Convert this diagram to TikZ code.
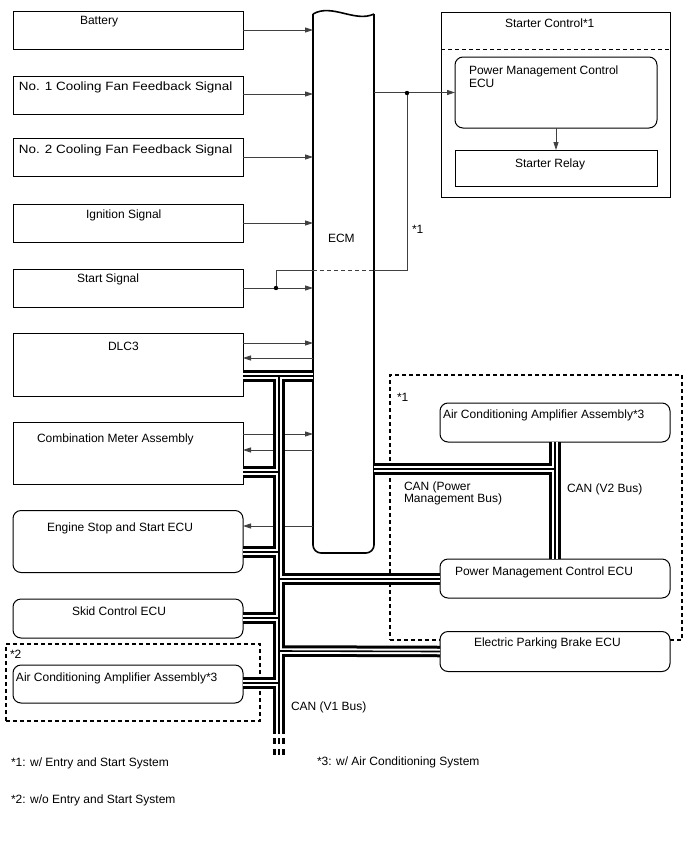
\documentclass[tikz,border=0pt]{standalone}
\usepackage{fontspec}
\setmainfont{Liberation Sans}
\usetikzlibrary{arrows.meta}
\begin{document}
\begin{tikzpicture}[x=1pt,y=-1pt,
  box/.style={draw=black, line width=1pt, inner sep=0pt, outer sep=0pt, fill=white},
  rbox/.style={box, rounded corners=8pt},
  dbox/.style={draw=black, line width=1.1pt, dash pattern=on 4pt off 3pt, inner sep=0pt, outer sep=0pt},
  lbl/.style={anchor=base west, inner sep=0pt, outer sep=0pt, font=\fontsize{12pt}{14pt}\selectfont},
  wire/.style={draw=black!75, line width=0.8pt},
  arr/.style={wire, -{Triangle[length=8pt,width=5pt]}},
  ecmline/.style={draw=black, line width=1.6pt},
  busA/.style={draw=black, line width=11.5pt},
  busB/.style={draw=white, line width=5.5pt},
  busC/.style={draw=black, line width=1.6pt}
]
\useasboundingbox (0,0) rectangle (688,852);
\fill[white] (0,0) rectangle (688,852);

% group frames
\node[dbox, minimum width=292pt, minimum height=265pt] (grp1) at (536,507.5) {};
\node[dbox, minimum width=254pt, minimum height=77pt] (grp2) at (133,682.5) {};

% left boxes
\node[box, minimum width=230pt, minimum height=38pt] (battery) at (128,30) {};
\node[box, minimum width=230pt, minimum height=38pt] (fan1) at (128,95) {};
\node[box, minimum width=230pt, minimum height=38pt] (fan2) at (128,157) {};
\node[box, minimum width=230pt, minimum height=38pt] (ign) at (128,223.5) {};
\node[box, minimum width=230pt, minimum height=38pt] (start) at (128,288) {};
\node[box, minimum width=230pt, minimum height=63pt] (dlc3) at (128,364.5) {};
\node[box, minimum width=230pt, minimum height=62pt] (comb) at (128,453) {};
\node[rbox, minimum width=230pt, minimum height=62pt] (ess) at (128,541.5) {};
\node[rbox, minimum width=230pt, minimum height=39pt] (skid) at (128,618.5) {};
\node[rbox, minimum width=230pt, minimum height=38pt] (acl) at (128,684) {};

% ECM
\node[minimum width=61pt, minimum height=539pt, inner sep=0pt, outer sep=0pt] (ecm) at (343.5,283.5) {};
\draw[ecmline] (ecm.north west) .. controls +(19,-11) and +(-19,9) .. (ecm.north east);
\draw[ecmline, rounded corners=8pt] (ecm.north east) -- (ecm.south east) -- (ecm.south west) -- (ecm.north west);

% starter control
\node[box, minimum width=229pt, minimum height=185pt] (sc) at (555.5,104.5) {};
\draw[wire, draw=black, dash pattern=on 4pt off 3pt] (sc.west |- 0,49) -- (sc.east |- 0,49);
\node[rbox, minimum width=202pt, minimum height=71pt] (pmcu) at (556,92.5) {};
\node[box, minimum width=202pt, minimum height=36pt] (relay) at (556,168) {};

% right boxes
\node[rbox, minimum width=230pt, minimum height=39pt] (acr) at (555,422.5) {};
\node[rbox, minimum width=230pt, minimum height=39pt] (pmcl) at (555,578.5) {};
\node[rbox, minimum width=230pt, minimum height=40pt] (epb) at (555,651.5) {};

% labels
\node[lbl] (tbat) at (80,24) {Battery};
\node[lbl] (tfan1) at (19,90) {\scalebox{1.12}[1]{No. 1 Cooling Fan Feedback Signal}};
\node[lbl] (tfan2) at (19,153) {\scalebox{1.12}[1]{No. 2 Cooling Fan Feedback Signal}};
\node[lbl] (tign) at (86,218) {Ignition Signal};
\node[lbl] (tstart) at (77,282) {Start Signal};
\node[lbl] (tdlc) at (108,350) {DLC3};
\node[lbl] (tcomb) at (37,442) {Combination Meter Assembly};
\node[lbl] (tess) at (47,531) {Engine Stop and Start ECU};
\node[lbl] (tskid) at (72,615) {Skid Control ECU};
\node[lbl] (tacl) at (16,681) {Air Conditioning Amplifier Assembly*3};
\node[lbl] (tsc) at (505,27) {Starter Control*1};
\node[lbl] (tpmcu1) at (469,74) {Power Management Control};
\node[lbl] (tpmcu2) at (469,87) {ECU};
\node[lbl] (trelay) at (515,167) {Starter Relay};
\node[lbl] (tecm) at (328,242) {ECM};
\node[lbl] (tst1) at (412,233) {*1};
\node[lbl] (tg1) at (397,401) {*1};
\node[lbl] (tacr) at (443,418) {Air Conditioning Amplifier Assembly*3};
\node[lbl] (tcanpm1) at (404,490) {CAN (Power};
\node[lbl] (tcanpm2) at (404,502) {Management Bus)};
\node[lbl] (tcanv2) at (567,492) {CAN (V2 Bus)};
\node[lbl] (tpmcl) at (455,575) {Power Management Control ECU};
\node[lbl] (tepb) at (474,646) {Electric Parking Brake ECU};
\node[lbl] (tg2) at (10,658) {*2};
\node[lbl] (tcanv1) at (291,710) {CAN (V1 Bus)};
\node[lbl] (fn1) at (11,766) {*1: w/ Entry and Start System};
\node[lbl] (fn2) at (11,803) {*2: w/o Entry and Start System};
\node[lbl] (fn3) at (317,765) {*3: w/ Air Conditioning System};

% signal arrows
\draw[arr] (battery.east) -- (battery.east -| ecm.west);
\draw[arr] (fan1.east |- 0,94) -- (ecm.west |- 0,94);
\draw[arr] (fan2.east) -- (fan2.east -| ecm.west);
\draw[arr] (ign.east |- 0,223) -- (ecm.west |- 0,223);
\draw[arr] (start.east) -- (start.east -| ecm.west);
\draw[arr] (dlc3.east |- 0,343) -- (ecm.west |- 0,343);
\draw[arr] (ecm.west |- 0,358) -- (dlc3.east |- 0,358);
\draw[arr] (comb.east |- 0,434) -- (ecm.west |- 0,434);
\draw[arr] (ecm.west |- 0,450) -- (comb.east |- 0,450);
\draw[arr] (ecm.west |- 0,526) -- (ess.east |- 0,526);

% start signal branch to starter control
\coordinate (sdot) at (276,288);
\coordinate (tdot) at (407,93);
\draw[wire] (sdot) -- (sdot |- 0,270) -- (ecm.west |- 0,270);
\draw[wire, dash pattern=on 4pt off 3pt] (ecm.west |- 0,270) -- (ecm.east |- 0,270);
\draw[wire] (ecm.east |- 0,270) -- (tdot |- 0,270) -- (tdot);
\fill[black] (sdot) circle (2.2pt);
\draw[arr] (ecm.east |- pmcu.west) -- (pmcu.west);
\fill[black] (tdot) circle (2.2pt);
\draw[arr] (pmcu.south) -- (relay.north);

% CAN buses
\coordinate (jtop) at (279,376);
\coordinate (jbot) at (279,734);
\coordinate (jv2) at (555,469);
\foreach \st in {busA,busB,busC}{
  \draw[\st] (dlc3.east |- jtop) -- (ecm.west |- jtop);
  \draw[\st] (jtop) -- (jbot);
  \draw[\st] (comb.east |- 0,472) -- (jtop |- 0,472);
  \draw[\st] (ess.east |- 0,552) -- (jtop |- 0,552);
  \draw[\st] (skid.east |- 0,618) -- (jtop |- 0,618);
  \draw[\st] (acl.east |- 0,683) -- (jtop |- 0,683);
  \draw[\st] (jtop |- 0,579) -- (pmcl.west |- 0,579);
  \draw[\st] (jtop |- 0,651) -- (epb.west);
  \draw[\st] (ecm.east |- jv2) -- (jv2);
  \draw[\st] (acr.south -| jv2) -- (pmcl.north -| jv2);
  \draw[\st] (279,738) -- (279,743.5);
  \draw[\st] (279,749) -- (279,754.5);
}
\end{tikzpicture}
\end{document}
